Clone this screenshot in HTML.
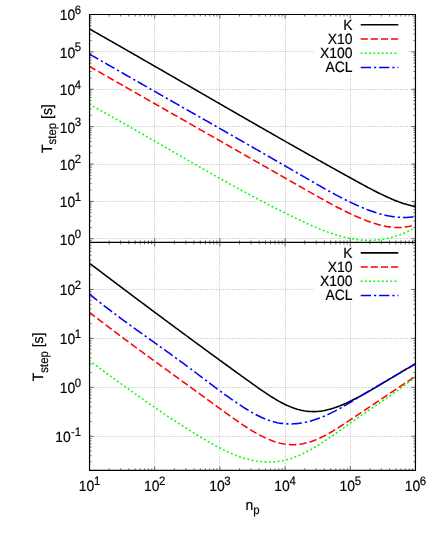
<!DOCTYPE html><html><head><meta charset="utf-8"><style>html,body{margin:0;padding:0;background:#fff}svg{display:block;will-change:transform}text{font-family:"Liberation Sans",sans-serif;fill:#000;text-rendering:geometricPrecision;stroke:#000;stroke-width:0.18px}</style></head><body>
<svg width="436" height="556" viewBox="0 0 436 556">
<rect width="436" height="556" fill="#fff"/>
<defs><clipPath id="ct"><rect x="89.55" y="14.5" width="325.9" height="227.9"/></clipPath><clipPath id="cb"><rect x="89.55" y="242.4" width="325.9" height="228"/></clipPath></defs>
<path d="M154.50 14.50 V470.40 M219.50 14.50 V470.40 M285.50 14.50 V470.40 M350.50 14.50 V470.40 M89.55 238.50 H415.45 M89.55 201.50 H415.45 M89.55 164.50 H415.45 M89.55 126.50 H415.45 M89.55 89.50 H415.45 M89.55 51.50 H415.45 M89.55 436.50 H415.45 M89.55 387.50 H415.45 M89.55 338.50 H415.45 M89.55 289.50 H415.45" stroke="#a2a2a2" stroke-width="0.65" stroke-dasharray="1 1.3" fill="none"/>
<rect x="315" y="14.50" width="93.7" height="58.80" fill="#fff"/>
<rect x="315" y="242.40" width="93.7" height="58.60" fill="#fff"/>
<path d="M109.17 14.50 v2.00 M109.17 240.40 v4.00 M109.17 470.40 v-2.00 M120.65 14.50 v2.00 M120.65 240.40 v4.00 M120.65 470.40 v-2.00 M128.79 14.50 v2.00 M128.79 240.40 v4.00 M128.79 470.40 v-2.00 M135.11 14.50 v2.00 M135.11 240.40 v4.00 M135.11 470.40 v-2.00 M140.27 14.50 v2.00 M140.27 240.40 v4.00 M140.27 470.40 v-2.00 M144.63 14.50 v2.00 M144.63 240.40 v4.00 M144.63 470.40 v-2.00 M148.41 14.50 v2.00 M148.41 240.40 v4.00 M148.41 470.40 v-2.00 M151.75 14.50 v2.00 M151.75 240.40 v4.00 M151.75 470.40 v-2.00 M154.73 14.50 v4.00 M154.73 238.40 v8.00 M154.73 470.40 v-4.00 M174.35 14.50 v2.00 M174.35 240.40 v4.00 M174.35 470.40 v-2.00 M185.83 14.50 v2.00 M185.83 240.40 v4.00 M185.83 470.40 v-2.00 M193.97 14.50 v2.00 M193.97 240.40 v4.00 M193.97 470.40 v-2.00 M200.29 14.50 v2.00 M200.29 240.40 v4.00 M200.29 470.40 v-2.00 M205.45 14.50 v2.00 M205.45 240.40 v4.00 M205.45 470.40 v-2.00 M209.81 14.50 v2.00 M209.81 240.40 v4.00 M209.81 470.40 v-2.00 M213.59 14.50 v2.00 M213.59 240.40 v4.00 M213.59 470.40 v-2.00 M216.93 14.50 v2.00 M216.93 240.40 v4.00 M216.93 470.40 v-2.00 M219.91 14.50 v4.00 M219.91 238.40 v8.00 M219.91 470.40 v-4.00 M239.53 14.50 v2.00 M239.53 240.40 v4.00 M239.53 470.40 v-2.00 M251.01 14.50 v2.00 M251.01 240.40 v4.00 M251.01 470.40 v-2.00 M259.15 14.50 v2.00 M259.15 240.40 v4.00 M259.15 470.40 v-2.00 M265.47 14.50 v2.00 M265.47 240.40 v4.00 M265.47 470.40 v-2.00 M270.63 14.50 v2.00 M270.63 240.40 v4.00 M270.63 470.40 v-2.00 M274.99 14.50 v2.00 M274.99 240.40 v4.00 M274.99 470.40 v-2.00 M278.77 14.50 v2.00 M278.77 240.40 v4.00 M278.77 470.40 v-2.00 M282.11 14.50 v2.00 M282.11 240.40 v4.00 M282.11 470.40 v-2.00 M285.09 14.50 v4.00 M285.09 238.40 v8.00 M285.09 470.40 v-4.00 M304.71 14.50 v2.00 M304.71 240.40 v4.00 M304.71 470.40 v-2.00 M316.19 14.50 v2.00 M316.19 240.40 v4.00 M316.19 470.40 v-2.00 M324.33 14.50 v2.00 M324.33 240.40 v4.00 M324.33 470.40 v-2.00 M330.65 14.50 v2.00 M330.65 240.40 v4.00 M330.65 470.40 v-2.00 M335.81 14.50 v2.00 M335.81 240.40 v4.00 M335.81 470.40 v-2.00 M340.17 14.50 v2.00 M340.17 240.40 v4.00 M340.17 470.40 v-2.00 M343.95 14.50 v2.00 M343.95 240.40 v4.00 M343.95 470.40 v-2.00 M347.29 14.50 v2.00 M347.29 240.40 v4.00 M347.29 470.40 v-2.00 M350.27 14.50 v4.00 M350.27 238.40 v8.00 M350.27 470.40 v-4.00 M369.89 14.50 v2.00 M369.89 240.40 v4.00 M369.89 470.40 v-2.00 M381.37 14.50 v2.00 M381.37 240.40 v4.00 M381.37 470.40 v-2.00 M389.51 14.50 v2.00 M389.51 240.40 v4.00 M389.51 470.40 v-2.00 M395.83 14.50 v2.00 M395.83 240.40 v4.00 M395.83 470.40 v-2.00 M400.99 14.50 v2.00 M400.99 240.40 v4.00 M400.99 470.40 v-2.00 M405.35 14.50 v2.00 M405.35 240.40 v4.00 M405.35 470.40 v-2.00 M409.13 14.50 v2.00 M409.13 240.40 v4.00 M409.13 470.40 v-2.00 M412.47 14.50 v2.00 M412.47 240.40 v4.00 M412.47 470.40 v-2.00 M89.55 242.40 h2.00 M415.45 242.40 h-2.00 M89.55 240.49 h2.00 M415.45 240.49 h-2.00 M89.55 238.78 h4.00 M415.45 238.78 h-4.00 M89.55 227.53 h2.00 M415.45 227.53 h-2.00 M89.55 220.95 h2.00 M415.45 220.95 h-2.00 M89.55 216.27 h2.00 M415.45 216.27 h-2.00 M89.55 212.65 h2.00 M415.45 212.65 h-2.00 M89.55 209.69 h2.00 M415.45 209.69 h-2.00 M89.55 207.19 h2.00 M415.45 207.19 h-2.00 M89.55 205.02 h2.00 M415.45 205.02 h-2.00 M89.55 203.11 h2.00 M415.45 203.11 h-2.00 M89.55 201.40 h4.00 M415.45 201.40 h-4.00 M89.55 190.15 h2.00 M415.45 190.15 h-2.00 M89.55 183.57 h2.00 M415.45 183.57 h-2.00 M89.55 178.89 h2.00 M415.45 178.89 h-2.00 M89.55 175.27 h2.00 M415.45 175.27 h-2.00 M89.55 172.31 h2.00 M415.45 172.31 h-2.00 M89.55 169.81 h2.00 M415.45 169.81 h-2.00 M89.55 167.64 h2.00 M415.45 167.64 h-2.00 M89.55 165.73 h2.00 M415.45 165.73 h-2.00 M89.55 164.02 h4.00 M415.45 164.02 h-4.00 M89.55 152.77 h2.00 M415.45 152.77 h-2.00 M89.55 146.19 h2.00 M415.45 146.19 h-2.00 M89.55 141.51 h2.00 M415.45 141.51 h-2.00 M89.55 137.89 h2.00 M415.45 137.89 h-2.00 M89.55 134.93 h2.00 M415.45 134.93 h-2.00 M89.55 132.43 h2.00 M415.45 132.43 h-2.00 M89.55 130.26 h2.00 M415.45 130.26 h-2.00 M89.55 128.35 h2.00 M415.45 128.35 h-2.00 M89.55 126.64 h4.00 M415.45 126.64 h-4.00 M89.55 115.39 h2.00 M415.45 115.39 h-2.00 M89.55 108.81 h2.00 M415.45 108.81 h-2.00 M89.55 104.13 h2.00 M415.45 104.13 h-2.00 M89.55 100.51 h2.00 M415.45 100.51 h-2.00 M89.55 97.55 h2.00 M415.45 97.55 h-2.00 M89.55 95.05 h2.00 M415.45 95.05 h-2.00 M89.55 92.88 h2.00 M415.45 92.88 h-2.00 M89.55 90.97 h2.00 M415.45 90.97 h-2.00 M89.55 89.26 h4.00 M415.45 89.26 h-4.00 M89.55 78.01 h2.00 M415.45 78.01 h-2.00 M89.55 71.43 h2.00 M415.45 71.43 h-2.00 M89.55 66.75 h2.00 M415.45 66.75 h-2.00 M89.55 63.13 h2.00 M415.45 63.13 h-2.00 M89.55 60.17 h2.00 M415.45 60.17 h-2.00 M89.55 57.67 h2.00 M415.45 57.67 h-2.00 M89.55 55.50 h2.00 M415.45 55.50 h-2.00 M89.55 53.59 h2.00 M415.45 53.59 h-2.00 M89.55 51.88 h4.00 M415.45 51.88 h-4.00 M89.55 40.63 h2.00 M415.45 40.63 h-2.00 M89.55 34.05 h2.00 M415.45 34.05 h-2.00 M89.55 29.37 h2.00 M415.45 29.37 h-2.00 M89.55 25.75 h2.00 M415.45 25.75 h-2.00 M89.55 22.79 h2.00 M415.45 22.79 h-2.00 M89.55 20.29 h2.00 M415.45 20.29 h-2.00 M89.55 18.12 h2.00 M415.45 18.12 h-2.00 M89.55 16.21 h2.00 M415.45 16.21 h-2.00 M89.55 14.50 h4.00 M415.45 14.50 h-4.00 M89.55 470.40 h2.00 M415.45 470.40 h-2.00 M89.55 461.79 h2.00 M415.45 461.79 h-2.00 M89.55 455.68 h2.00 M415.45 455.68 h-2.00 M89.55 450.94 h2.00 M415.45 450.94 h-2.00 M89.55 447.06 h2.00 M415.45 447.06 h-2.00 M89.55 443.79 h2.00 M415.45 443.79 h-2.00 M89.55 440.95 h2.00 M415.45 440.95 h-2.00 M89.55 438.45 h2.00 M415.45 438.45 h-2.00 M89.55 436.21 h4.00 M415.45 436.21 h-4.00 M89.55 421.48 h2.00 M415.45 421.48 h-2.00 M89.55 412.87 h2.00 M415.45 412.87 h-2.00 M89.55 406.76 h2.00 M415.45 406.76 h-2.00 M89.55 402.02 h2.00 M415.45 402.02 h-2.00 M89.55 398.14 h2.00 M415.45 398.14 h-2.00 M89.55 394.87 h2.00 M415.45 394.87 h-2.00 M89.55 392.03 h2.00 M415.45 392.03 h-2.00 M89.55 389.53 h2.00 M415.45 389.53 h-2.00 M89.55 387.29 h4.00 M415.45 387.29 h-4.00 M89.55 372.56 h2.00 M415.45 372.56 h-2.00 M89.55 363.95 h2.00 M415.45 363.95 h-2.00 M89.55 357.84 h2.00 M415.45 357.84 h-2.00 M89.55 353.10 h2.00 M415.45 353.10 h-2.00 M89.55 349.22 h2.00 M415.45 349.22 h-2.00 M89.55 345.95 h2.00 M415.45 345.95 h-2.00 M89.55 343.11 h2.00 M415.45 343.11 h-2.00 M89.55 340.61 h2.00 M415.45 340.61 h-2.00 M89.55 338.37 h4.00 M415.45 338.37 h-4.00 M89.55 323.64 h2.00 M415.45 323.64 h-2.00 M89.55 315.03 h2.00 M415.45 315.03 h-2.00 M89.55 308.92 h2.00 M415.45 308.92 h-2.00 M89.55 304.18 h2.00 M415.45 304.18 h-2.00 M89.55 300.30 h2.00 M415.45 300.30 h-2.00 M89.55 297.03 h2.00 M415.45 297.03 h-2.00 M89.55 294.19 h2.00 M415.45 294.19 h-2.00 M89.55 291.69 h2.00 M415.45 291.69 h-2.00 M89.55 289.45 h4.00 M415.45 289.45 h-4.00 M89.55 274.72 h2.00 M415.45 274.72 h-2.00 M89.55 266.11 h2.00 M415.45 266.11 h-2.00 M89.55 260.00 h2.00 M415.45 260.00 h-2.00 M89.55 255.26 h2.00 M415.45 255.26 h-2.00 M89.55 251.38 h2.00 M415.45 251.38 h-2.00 M89.55 248.11 h2.00 M415.45 248.11 h-2.00 M89.55 245.27 h2.00 M415.45 245.27 h-2.00 M89.55 242.77 h2.00 M415.45 242.77 h-2.00" stroke="#000" stroke-width="0.6" fill="none"/>
<path d="M89.05 28.69 L90.54 29.54 L92.04 30.38 L93.53 31.23 L95.02 32.07 L96.51 32.92 L98.01 33.77 L99.50 34.62 L100.99 35.46 L102.48 36.31 L103.98 37.16 L105.47 38.01 L106.96 38.86 L108.46 39.71 L109.95 40.56 L111.44 41.41 L112.93 42.26 L114.43 43.11 L115.92 43.97 L117.41 44.82 L118.90 45.67 L120.40 46.52 L121.89 47.38 L123.38 48.23 L124.87 49.09 L126.37 49.94 L127.86 50.80 L129.35 51.65 L130.85 52.51 L132.34 53.36 L133.83 54.22 L135.32 55.08 L136.82 55.93 L138.31 56.79 L139.80 57.65 L141.29 58.50 L142.79 59.36 L144.28 60.22 L145.77 61.08 L147.27 61.94 L148.76 62.80 L150.25 63.65 L151.74 64.51 L153.24 65.37 L154.73 66.23 L156.22 67.09 L157.71 67.95 L159.21 68.81 L160.70 69.67 L162.19 70.53 L163.68 71.39 L165.18 72.25 L166.67 73.11 L168.16 73.98 L169.66 74.84 L171.15 75.70 L172.64 76.56 L174.13 77.42 L175.63 78.28 L177.12 79.14 L178.61 80.01 L180.10 80.87 L181.60 81.73 L183.09 82.59 L184.58 83.45 L186.08 84.32 L187.57 85.18 L189.06 86.04 L190.55 86.90 L192.05 87.76 L193.54 88.63 L195.03 89.49 L196.52 90.35 L198.02 91.21 L199.51 92.07 L201.00 92.94 L202.49 93.80 L203.99 94.66 L205.48 95.52 L206.97 96.38 L208.47 97.25 L209.96 98.11 L211.45 98.97 L212.94 99.83 L214.44 100.69 L215.93 101.55 L217.42 102.42 L218.91 103.28 L220.41 104.14 L221.90 105.00 L223.39 105.86 L224.89 106.72 L226.38 107.58 L227.87 108.44 L229.36 109.30 L230.86 110.16 L232.35 111.02 L233.84 111.88 L235.33 112.74 L236.83 113.60 L238.32 114.46 L239.81 115.32 L241.30 116.18 L242.80 117.04 L244.29 117.89 L245.78 118.75 L247.28 119.61 L248.77 120.47 L250.26 121.32 L251.75 122.18 L253.25 123.04 L254.74 123.89 L256.23 124.75 L257.72 125.61 L259.22 126.46 L260.71 127.32 L262.20 128.17 L263.70 129.03 L265.19 129.88 L266.68 130.73 L268.17 131.59 L269.67 132.44 L271.16 133.29 L272.65 134.15 L274.14 135.00 L275.64 135.85 L277.13 136.70 L278.62 137.55 L280.11 138.40 L281.61 139.25 L283.10 140.10 L284.59 140.95 L286.09 141.80 L287.58 142.65 L289.07 143.50 L290.56 144.34 L292.06 145.19 L293.55 146.04 L295.04 146.88 L296.53 147.73 L298.03 148.57 L299.52 149.42 L301.01 150.26 L302.51 151.10 L304.00 151.95 L305.49 152.79 L306.98 153.63 L308.48 154.47 L309.97 155.31 L311.46 156.15 L312.95 156.99 L314.45 157.83 L315.94 158.67 L317.43 159.51 L318.92 160.35 L320.42 161.18 L321.91 162.02 L323.40 162.86 L324.90 163.69 L326.39 164.52 L327.88 165.36 L329.37 166.19 L330.87 167.02 L332.36 167.86 L333.85 168.69 L335.34 169.52 L336.84 170.35 L338.33 171.18 L339.82 172.00 L341.32 172.83 L342.81 173.66 L344.30 174.48 L345.79 175.31 L347.29 176.13 L348.78 176.96 L350.27 177.78 L351.76 178.60 L353.26 179.43 L354.75 180.25 L356.24 181.07 L357.73 181.89 L359.23 182.71 L360.72 183.52 L362.21 184.34 L363.71 185.15 L365.20 185.96 L366.69 186.76 L368.18 187.56 L369.68 188.35 L371.17 189.14 L372.66 189.92 L374.15 190.69 L375.65 191.45 L377.14 192.20 L378.63 192.94 L380.13 193.67 L381.62 194.40 L383.11 195.12 L384.60 195.82 L386.10 196.52 L387.59 197.21 L389.08 197.88 L390.57 198.54 L392.07 199.18 L393.56 199.81 L395.05 200.42 L396.54 201.01 L398.04 201.58 L399.53 202.13 L401.02 202.66 L402.52 203.16 L404.01 203.64 L405.50 204.10 L406.99 204.53 L408.49 204.93 L409.98 205.30 L411.47 205.64 L412.96 205.95 L414.46 206.22 L415.95 206.47" stroke="#000000" stroke-width="1.55" fill="none" clip-path="url(#ct)"/>
<path d="M89.05 66.25 L90.54 67.10 L92.04 67.94 L93.53 68.79 L95.02 69.64 L96.51 70.49 L98.01 71.34 L99.50 72.19 L100.99 73.04 L102.48 73.89 L103.98 74.74 L105.47 75.59 L106.96 76.44 L108.46 77.29 L109.95 78.14 L111.44 78.99 L112.93 79.84 L114.43 80.69 L115.92 81.54 L117.41 82.39 L118.90 83.24 L120.40 84.09 L121.89 84.94 L123.38 85.79 L124.87 86.64 L126.37 87.49 L127.86 88.34 L129.35 89.20 L130.85 90.05 L132.34 90.90 L133.83 91.75 L135.32 92.60 L136.82 93.45 L138.31 94.30 L139.80 95.15 L141.29 96.00 L142.79 96.85 L144.28 97.70 L145.77 98.55 L147.27 99.41 L148.76 100.26 L150.25 101.11 L151.74 101.96 L153.24 102.81 L154.73 103.66 L156.22 104.51 L157.71 105.36 L159.21 106.21 L160.70 107.07 L162.19 107.92 L163.68 108.77 L165.18 109.62 L166.67 110.47 L168.16 111.32 L169.66 112.17 L171.15 113.03 L172.64 113.88 L174.13 114.73 L175.63 115.58 L177.12 116.43 L178.61 117.28 L180.10 118.13 L181.60 118.99 L183.09 119.84 L184.58 120.69 L186.08 121.54 L187.57 122.39 L189.06 123.24 L190.55 124.10 L192.05 124.95 L193.54 125.80 L195.03 126.65 L196.52 127.50 L198.02 128.35 L199.51 129.21 L201.00 130.06 L202.49 130.91 L203.99 131.76 L205.48 132.61 L206.97 133.46 L208.47 134.32 L209.96 135.17 L211.45 136.02 L212.94 136.87 L214.44 137.72 L215.93 138.57 L217.42 139.43 L218.91 140.28 L220.41 141.13 L221.90 141.98 L223.39 142.83 L224.89 143.68 L226.38 144.54 L227.87 145.39 L229.36 146.24 L230.86 147.09 L232.35 147.94 L233.84 148.79 L235.33 149.65 L236.83 150.50 L238.32 151.35 L239.81 152.20 L241.30 153.05 L242.80 153.90 L244.29 154.76 L245.78 155.61 L247.28 156.46 L248.77 157.31 L250.26 158.16 L251.75 159.01 L253.25 159.86 L254.74 160.72 L256.23 161.57 L257.72 162.42 L259.22 163.27 L260.71 164.12 L262.20 164.97 L263.70 165.82 L265.19 166.68 L266.68 167.53 L268.17 168.38 L269.67 169.23 L271.16 170.08 L272.65 170.93 L274.14 171.78 L275.64 172.63 L277.13 173.48 L278.62 174.34 L280.11 175.19 L281.61 176.04 L283.10 176.89 L284.59 177.74 L286.09 178.59 L287.58 179.44 L289.07 180.29 L290.56 181.14 L292.06 181.99 L293.55 182.84 L295.04 183.70 L296.53 184.55 L298.03 185.40 L299.52 186.25 L301.01 187.10 L302.51 187.95 L304.00 188.80 L305.49 189.65 L306.98 190.50 L308.48 191.35 L309.97 192.20 L311.46 193.05 L312.95 193.89 L314.45 194.74 L315.94 195.58 L317.43 196.42 L318.92 197.26 L320.42 198.09 L321.91 198.92 L323.40 199.75 L324.90 200.57 L326.39 201.39 L327.88 202.21 L329.37 203.02 L330.87 203.82 L332.36 204.62 L333.85 205.41 L335.34 206.20 L336.84 206.98 L338.33 207.75 L339.82 208.52 L341.32 209.28 L342.81 210.03 L344.30 210.77 L345.79 211.50 L347.29 212.23 L348.78 212.94 L350.27 213.65 L351.76 214.35 L353.26 215.03 L354.75 215.71 L356.24 216.38 L357.73 217.03 L359.23 217.67 L360.72 218.31 L362.21 218.93 L363.71 219.53 L365.20 220.13 L366.69 220.70 L368.18 221.27 L369.68 221.81 L371.17 222.34 L372.66 222.85 L374.15 223.34 L375.65 223.81 L377.14 224.26 L378.63 224.68 L380.13 225.08 L381.62 225.45 L383.11 225.80 L384.60 226.11 L386.10 226.40 L387.59 226.66 L389.08 226.89 L390.57 227.09 L392.07 227.25 L393.56 227.38 L395.05 227.47 L396.54 227.52 L398.04 227.54 L399.53 227.52 L401.02 227.46 L402.52 227.36 L404.01 227.22 L405.50 227.03 L406.99 226.80 L408.49 226.53 L409.98 226.20 L411.47 225.83 L412.96 225.42 L414.46 224.95 L415.95 224.43" stroke="#ff0000" stroke-width="1.55" fill="none" clip-path="url(#ct)" stroke-dasharray="7.377 3.117"/>
<path d="M89.05 104.16 L90.54 104.97 L92.04 105.78 L93.53 106.59 L95.02 107.41 L96.51 108.23 L98.01 109.05 L99.50 109.87 L100.99 110.69 L102.48 111.52 L103.98 112.34 L105.47 113.17 L106.96 114.00 L108.46 114.83 L109.95 115.66 L111.44 116.50 L112.93 117.33 L114.43 118.17 L115.92 119.01 L117.41 119.85 L118.90 120.69 L120.40 121.53 L121.89 122.38 L123.38 123.22 L124.87 124.06 L126.37 124.91 L127.86 125.76 L129.35 126.61 L130.85 127.46 L132.34 128.31 L133.83 129.16 L135.32 130.01 L136.82 130.86 L138.31 131.72 L139.80 132.57 L141.29 133.43 L142.79 134.28 L144.28 135.14 L145.77 135.99 L147.27 136.85 L148.76 137.71 L150.25 138.57 L151.74 139.43 L153.24 140.28 L154.73 141.14 L156.22 142.00 L157.71 142.86 L159.21 143.72 L160.70 144.58 L162.19 145.44 L163.68 146.30 L165.18 147.16 L166.67 148.03 L168.16 148.89 L169.66 149.75 L171.15 150.61 L172.64 151.47 L174.13 152.33 L175.63 153.19 L177.12 154.05 L178.61 154.90 L180.10 155.76 L181.60 156.62 L183.09 157.48 L184.58 158.34 L186.08 159.19 L187.57 160.05 L189.06 160.91 L190.55 161.76 L192.05 162.62 L193.54 163.47 L195.03 164.33 L196.52 165.18 L198.02 166.03 L199.51 166.88 L201.00 167.73 L202.49 168.58 L203.99 169.43 L205.48 170.28 L206.97 171.12 L208.47 171.97 L209.96 172.81 L211.45 173.65 L212.94 174.50 L214.44 175.34 L215.93 176.18 L217.42 177.01 L218.91 177.85 L220.41 178.68 L221.90 179.52 L223.39 180.35 L224.89 181.18 L226.38 182.01 L227.87 182.84 L229.36 183.66 L230.86 184.49 L232.35 185.31 L233.84 186.13 L235.33 186.95 L236.83 187.77 L238.32 188.59 L239.81 189.40 L241.30 190.21 L242.80 191.02 L244.29 191.83 L245.78 192.63 L247.28 193.44 L248.77 194.24 L250.26 195.04 L251.75 195.84 L253.25 196.63 L254.74 197.42 L256.23 198.21 L257.72 199.00 L259.22 199.79 L260.71 200.57 L262.20 201.35 L263.70 202.13 L265.19 202.91 L266.68 203.68 L268.17 204.45 L269.67 205.22 L271.16 205.98 L272.65 206.75 L274.14 207.51 L275.64 208.26 L277.13 209.02 L278.62 209.77 L280.11 210.52 L281.61 211.26 L283.10 212.00 L284.59 212.74 L286.09 213.48 L287.58 214.21 L289.07 214.94 L290.56 215.67 L292.06 216.39 L293.55 217.11 L295.04 217.83 L296.53 218.54 L298.03 219.25 L299.52 219.96 L301.01 220.66 L302.51 221.36 L304.00 222.05 L305.49 222.74 L306.98 223.43 L308.48 224.10 L309.97 224.77 L311.46 225.44 L312.95 226.09 L314.45 226.74 L315.94 227.38 L317.43 228.01 L318.92 228.63 L320.42 229.24 L321.91 229.83 L323.40 230.42 L324.90 231.00 L326.39 231.56 L327.88 232.11 L329.37 232.64 L330.87 233.16 L332.36 233.67 L333.85 234.16 L335.34 234.64 L336.84 235.10 L338.33 235.54 L339.82 235.97 L341.32 236.38 L342.81 236.77 L344.30 237.14 L345.79 237.50 L347.29 237.83 L348.78 238.15 L350.27 238.44 L351.76 238.72 L353.26 238.97 L354.75 239.20 L356.24 239.42 L357.73 239.61 L359.23 239.78 L360.72 239.92 L362.21 240.05 L363.71 240.15 L365.20 240.23 L366.69 240.28 L368.18 240.31 L369.68 240.31 L371.17 240.29 L372.66 240.25 L374.15 240.18 L375.65 240.08 L377.14 239.96 L378.63 239.81 L380.13 239.64 L381.62 239.44 L383.11 239.21 L384.60 238.96 L386.10 238.67 L387.59 238.37 L389.08 238.03 L390.57 237.67 L392.07 237.28 L393.56 236.86 L395.05 236.41 L396.54 235.94 L398.04 235.44 L399.53 234.91 L401.02 234.35 L402.52 233.77 L404.01 233.15 L405.50 232.51 L406.99 231.84 L408.49 231.14 L409.98 230.42 L411.47 229.66 L412.96 228.87 L414.46 228.06 L415.95 227.21" stroke="#00ff00" stroke-width="1.55" fill="none" clip-path="url(#ct)" stroke-dasharray="1.906 2.451"/>
<path d="M89.05 53.84 L90.54 54.69 L92.04 55.55 L93.53 56.41 L95.02 57.27 L96.51 58.12 L98.01 58.98 L99.50 59.84 L100.99 60.69 L102.48 61.55 L103.98 62.40 L105.47 63.26 L106.96 64.11 L108.46 64.97 L109.95 65.83 L111.44 66.68 L112.93 67.53 L114.43 68.39 L115.92 69.24 L117.41 70.10 L118.90 70.95 L120.40 71.81 L121.89 72.66 L123.38 73.51 L124.87 74.37 L126.37 75.22 L127.86 76.07 L129.35 76.92 L130.85 77.78 L132.34 78.63 L133.83 79.48 L135.32 80.34 L136.82 81.19 L138.31 82.04 L139.80 82.89 L141.29 83.74 L142.79 84.60 L144.28 85.45 L145.77 86.30 L147.27 87.15 L148.76 88.00 L150.25 88.85 L151.74 89.70 L153.24 90.55 L154.73 91.41 L156.22 92.26 L157.71 93.11 L159.21 93.96 L160.70 94.81 L162.19 95.66 L163.68 96.51 L165.18 97.36 L166.67 98.21 L168.16 99.06 L169.66 99.91 L171.15 100.76 L172.64 101.61 L174.13 102.46 L175.63 103.32 L177.12 104.17 L178.61 105.02 L180.10 105.87 L181.60 106.72 L183.09 107.57 L184.58 108.42 L186.08 109.27 L187.57 110.12 L189.06 110.97 L190.55 111.82 L192.05 112.67 L193.54 113.52 L195.03 114.37 L196.52 115.22 L198.02 116.07 L199.51 116.92 L201.00 117.77 L202.49 118.62 L203.99 119.48 L205.48 120.33 L206.97 121.18 L208.47 122.03 L209.96 122.88 L211.45 123.73 L212.94 124.58 L214.44 125.43 L215.93 126.28 L217.42 127.14 L218.91 127.99 L220.41 128.84 L221.90 129.69 L223.39 130.54 L224.89 131.40 L226.38 132.25 L227.87 133.10 L229.36 133.95 L230.86 134.81 L232.35 135.66 L233.84 136.51 L235.33 137.36 L236.83 138.22 L238.32 139.07 L239.81 139.92 L241.30 140.78 L242.80 141.63 L244.29 142.49 L245.78 143.34 L247.28 144.19 L248.77 145.05 L250.26 145.90 L251.75 146.76 L253.25 147.61 L254.74 148.47 L256.23 149.32 L257.72 150.18 L259.22 151.04 L260.71 151.89 L262.20 152.75 L263.70 153.60 L265.19 154.46 L266.68 155.32 L268.17 156.18 L269.67 157.03 L271.16 157.89 L272.65 158.75 L274.14 159.61 L275.64 160.47 L277.13 161.32 L278.62 162.18 L280.11 163.04 L281.61 163.90 L283.10 164.76 L284.59 165.62 L286.09 166.48 L287.58 167.34 L289.07 168.20 L290.56 169.06 L292.06 169.93 L293.55 170.79 L295.04 171.65 L296.53 172.51 L298.03 173.38 L299.52 174.24 L301.01 175.10 L302.51 175.97 L304.00 176.83 L305.49 177.69 L306.98 178.56 L308.48 179.42 L309.97 180.29 L311.46 181.15 L312.95 182.01 L314.45 182.87 L315.94 183.73 L317.43 184.59 L318.92 185.44 L320.42 186.29 L321.91 187.14 L323.40 187.98 L324.90 188.82 L326.39 189.66 L327.88 190.49 L329.37 191.32 L330.87 192.14 L332.36 192.95 L333.85 193.76 L335.34 194.57 L336.84 195.36 L338.33 196.15 L339.82 196.93 L341.32 197.71 L342.81 198.48 L344.30 199.23 L345.79 199.98 L347.29 200.72 L348.78 201.45 L350.27 202.17 L351.76 202.88 L353.26 203.58 L354.75 204.27 L356.24 204.95 L357.73 205.62 L359.23 206.27 L360.72 206.91 L362.21 207.54 L363.71 208.16 L365.20 208.76 L366.69 209.35 L368.18 209.93 L369.68 210.48 L371.17 211.03 L372.66 211.55 L374.15 212.06 L375.65 212.55 L377.14 213.02 L378.63 213.47 L380.13 213.90 L381.62 214.31 L383.11 214.70 L384.60 215.06 L386.10 215.40 L387.59 215.72 L389.08 216.02 L390.57 216.29 L392.07 216.53 L393.56 216.75 L395.05 216.94 L396.54 217.10 L398.04 217.24 L399.53 217.35 L401.02 217.42 L402.52 217.47 L404.01 217.49 L405.50 217.47 L406.99 217.42 L408.49 217.34 L409.98 217.23 L411.47 217.08 L412.96 216.90 L414.46 216.68 L415.95 216.42" stroke="#0000ff" stroke-width="1.55" fill="none" clip-path="url(#ct)" stroke-dasharray="10.506 3.060 2.244 2.907"/>
<path d="M89.05 262.96 L90.54 264.09 L92.04 265.21 L93.53 266.34 L95.02 267.47 L96.51 268.60 L98.01 269.72 L99.50 270.85 L100.99 271.97 L102.48 273.10 L103.98 274.23 L105.47 275.35 L106.96 276.48 L108.46 277.60 L109.95 278.72 L111.44 279.85 L112.93 280.97 L114.43 282.10 L115.92 283.22 L117.41 284.34 L118.90 285.46 L120.40 286.58 L121.89 287.71 L123.38 288.83 L124.87 289.95 L126.37 291.07 L127.86 292.19 L129.35 293.31 L130.85 294.42 L132.34 295.54 L133.83 296.66 L135.32 297.78 L136.82 298.90 L138.31 300.01 L139.80 301.13 L141.29 302.25 L142.79 303.36 L144.28 304.48 L145.77 305.59 L147.27 306.71 L148.76 307.82 L150.25 308.93 L151.74 310.05 L153.24 311.16 L154.73 312.27 L156.22 313.38 L157.71 314.49 L159.21 315.60 L160.70 316.71 L162.19 317.82 L163.68 318.93 L165.18 320.04 L166.67 321.15 L168.16 322.25 L169.66 323.36 L171.15 324.47 L172.64 325.57 L174.13 326.68 L175.63 327.78 L177.12 328.89 L178.61 329.99 L180.10 331.10 L181.60 332.20 L183.09 333.30 L184.58 334.40 L186.08 335.50 L187.57 336.60 L189.06 337.70 L190.55 338.80 L192.05 339.90 L193.54 341.00 L195.03 342.10 L196.52 343.19 L198.02 344.29 L199.51 345.39 L201.00 346.48 L202.49 347.58 L203.99 348.67 L205.48 349.76 L206.97 350.86 L208.47 351.95 L209.96 353.04 L211.45 354.13 L212.94 355.22 L214.44 356.31 L215.93 357.40 L217.42 358.49 L218.91 359.58 L220.41 360.66 L221.90 361.75 L223.39 362.84 L224.89 363.92 L226.38 365.00 L227.87 366.09 L229.36 367.17 L230.86 368.25 L232.35 369.33 L233.84 370.42 L235.33 371.50 L236.83 372.58 L238.32 373.65 L239.81 374.73 L241.30 375.81 L242.80 376.88 L244.29 377.96 L245.78 379.03 L247.28 380.10 L248.77 381.16 L250.26 382.23 L251.75 383.29 L253.25 384.35 L254.74 385.40 L256.23 386.46 L257.72 387.51 L259.22 388.55 L260.71 389.59 L262.20 390.62 L263.70 391.65 L265.19 392.66 L266.68 393.67 L268.17 394.66 L269.67 395.63 L271.16 396.59 L272.65 397.53 L274.14 398.46 L275.64 399.36 L277.13 400.24 L278.62 401.09 L280.11 401.92 L281.61 402.73 L283.10 403.50 L284.59 404.24 L286.09 404.96 L287.58 405.64 L289.07 406.28 L290.56 406.89 L292.06 407.47 L293.55 408.01 L295.04 408.52 L296.53 408.99 L298.03 409.43 L299.52 409.82 L301.01 410.18 L302.51 410.50 L304.00 410.79 L305.49 411.03 L306.98 411.23 L308.48 411.39 L309.97 411.51 L311.46 411.59 L312.95 411.62 L314.45 411.61 L315.94 411.56 L317.43 411.47 L318.92 411.34 L320.42 411.16 L321.91 410.95 L323.40 410.71 L324.90 410.42 L326.39 410.10 L327.88 409.75 L329.37 409.37 L330.87 408.95 L332.36 408.51 L333.85 408.04 L335.34 407.53 L336.84 407.01 L338.33 406.46 L339.82 405.88 L341.32 405.28 L342.81 404.66 L344.30 404.02 L345.79 403.36 L347.29 402.68 L348.78 401.98 L350.27 401.27 L351.76 400.55 L353.26 399.81 L354.75 399.05 L356.24 398.29 L357.73 397.51 L359.23 396.72 L360.72 395.92 L362.21 395.11 L363.71 394.29 L365.20 393.46 L366.69 392.62 L368.18 391.77 L369.68 390.91 L371.17 390.05 L372.66 389.18 L374.15 388.31 L375.65 387.42 L377.14 386.54 L378.63 385.65 L380.13 384.76 L381.62 383.86 L383.11 382.96 L384.60 382.06 L386.10 381.15 L387.59 380.25 L389.08 379.35 L390.57 378.44 L392.07 377.54 L393.56 376.64 L395.05 375.73 L396.54 374.84 L398.04 373.94 L399.53 373.05 L401.02 372.16 L402.52 371.28 L404.01 370.40 L405.50 369.53 L406.99 368.67 L408.49 367.81 L409.98 366.96 L411.47 366.12 L412.96 365.29 L414.46 364.46 L415.95 363.65" stroke="#000000" stroke-width="1.55" fill="none" clip-path="url(#cb)"/>
<path d="M89.05 312.04 L90.54 313.20 L92.04 314.36 L93.53 315.52 L95.02 316.67 L96.51 317.82 L98.01 318.97 L99.50 320.12 L100.99 321.26 L102.48 322.40 L103.98 323.54 L105.47 324.68 L106.96 325.81 L108.46 326.94 L109.95 328.07 L111.44 329.20 L112.93 330.33 L114.43 331.45 L115.92 332.57 L117.41 333.69 L118.90 334.81 L120.40 335.93 L121.89 337.04 L123.38 338.16 L124.87 339.27 L126.37 340.38 L127.86 341.49 L129.35 342.59 L130.85 343.70 L132.34 344.80 L133.83 345.90 L135.32 347.00 L136.82 348.10 L138.31 349.20 L139.80 350.30 L141.29 351.39 L142.79 352.49 L144.28 353.58 L145.77 354.68 L147.27 355.77 L148.76 356.86 L150.25 357.95 L151.74 359.04 L153.24 360.13 L154.73 361.21 L156.22 362.30 L157.71 363.39 L159.21 364.47 L160.70 365.56 L162.19 366.64 L163.68 367.73 L165.18 368.81 L166.67 369.89 L168.16 370.97 L169.66 372.06 L171.15 373.14 L172.64 374.22 L174.13 375.30 L175.63 376.39 L177.12 377.47 L178.61 378.55 L180.10 379.63 L181.60 380.71 L183.09 381.80 L184.58 382.88 L186.08 383.96 L187.57 385.05 L189.06 386.13 L190.55 387.21 L192.05 388.30 L193.54 389.38 L195.03 390.47 L196.52 391.55 L198.02 392.64 L199.51 393.73 L201.00 394.81 L202.49 395.90 L203.99 396.99 L205.48 398.08 L206.97 399.17 L208.47 400.26 L209.96 401.35 L211.45 402.44 L212.94 403.53 L214.44 404.62 L215.93 405.71 L217.42 406.80 L218.91 407.88 L220.41 408.97 L221.90 410.05 L223.39 411.14 L224.89 412.22 L226.38 413.29 L227.87 414.37 L229.36 415.44 L230.86 416.50 L232.35 417.56 L233.84 418.61 L235.33 419.66 L236.83 420.70 L238.32 421.74 L239.81 422.76 L241.30 423.78 L242.80 424.78 L244.29 425.78 L245.78 426.76 L247.28 427.73 L248.77 428.68 L250.26 429.62 L251.75 430.54 L253.25 431.44 L254.74 432.32 L256.23 433.18 L257.72 434.02 L259.22 434.84 L260.71 435.63 L262.20 436.40 L263.70 437.14 L265.19 437.85 L266.68 438.53 L268.17 439.19 L269.67 439.81 L271.16 440.40 L272.65 440.96 L274.14 441.48 L275.64 441.97 L277.13 442.42 L278.62 442.83 L280.11 443.21 L281.61 443.54 L283.10 443.83 L284.59 444.08 L286.09 444.29 L287.58 444.45 L289.07 444.57 L290.56 444.64 L292.06 444.67 L293.55 444.66 L295.04 444.61 L296.53 444.52 L298.03 444.39 L299.52 444.21 L301.01 444.00 L302.51 443.75 L304.00 443.45 L305.49 443.12 L306.98 442.75 L308.48 442.35 L309.97 441.90 L311.46 441.42 L312.95 440.90 L314.45 440.35 L315.94 439.76 L317.43 439.13 L318.92 438.48 L320.42 437.79 L321.91 437.07 L323.40 436.33 L324.90 435.56 L326.39 434.76 L327.88 433.95 L329.37 433.10 L330.87 432.24 L332.36 431.36 L333.85 430.46 L335.34 429.55 L336.84 428.62 L338.33 427.68 L339.82 426.72 L341.32 425.75 L342.81 424.78 L344.30 423.80 L345.79 422.81 L347.29 421.82 L348.78 420.82 L350.27 419.82 L351.76 418.83 L353.26 417.83 L354.75 416.83 L356.24 415.83 L357.73 414.83 L359.23 413.83 L360.72 412.84 L362.21 411.84 L363.71 410.84 L365.20 409.84 L366.69 408.84 L368.18 407.84 L369.68 406.84 L371.17 405.84 L372.66 404.84 L374.15 403.84 L375.65 402.84 L377.14 401.84 L378.63 400.85 L380.13 399.85 L381.62 398.85 L383.11 397.85 L384.60 396.85 L386.10 395.85 L387.59 394.86 L389.08 393.86 L390.57 392.86 L392.07 391.86 L393.56 390.87 L395.05 389.87 L396.54 388.88 L398.04 387.88 L399.53 386.89 L401.02 385.89 L402.52 384.90 L404.01 383.91 L405.50 382.91 L406.99 381.92 L408.49 380.93 L409.98 379.94 L411.47 378.95 L412.96 377.96 L414.46 376.97 L415.95 375.98" stroke="#ff0000" stroke-width="1.55" fill="none" clip-path="url(#cb)" stroke-dasharray="7.377 3.117"/>
<path d="M89.05 360.31 L90.54 361.42 L92.04 362.52 L93.53 363.63 L95.02 364.73 L96.51 365.83 L98.01 366.94 L99.50 368.04 L100.99 369.13 L102.48 370.23 L103.98 371.33 L105.47 372.42 L106.96 373.52 L108.46 374.61 L109.95 375.70 L111.44 376.79 L112.93 377.88 L114.43 378.96 L115.92 380.05 L117.41 381.13 L118.90 382.21 L120.40 383.29 L121.89 384.37 L123.38 385.44 L124.87 386.51 L126.37 387.58 L127.86 388.65 L129.35 389.72 L130.85 390.78 L132.34 391.84 L133.83 392.90 L135.32 393.96 L136.82 395.02 L138.31 396.07 L139.80 397.12 L141.29 398.17 L142.79 399.21 L144.28 400.25 L145.77 401.29 L147.27 402.33 L148.76 403.36 L150.25 404.39 L151.74 405.42 L153.24 406.44 L154.73 407.46 L156.22 408.48 L157.71 409.50 L159.21 410.51 L160.70 411.52 L162.19 412.52 L163.68 413.53 L165.18 414.53 L166.67 415.52 L168.16 416.51 L169.66 417.50 L171.15 418.49 L172.64 419.47 L174.13 420.44 L175.63 421.42 L177.12 422.39 L178.61 423.35 L180.10 424.31 L181.60 425.27 L183.09 426.23 L184.58 427.18 L186.08 428.12 L187.57 429.06 L189.06 430.00 L190.55 430.93 L192.05 431.86 L193.54 432.79 L195.03 433.71 L196.52 434.62 L198.02 435.53 L199.51 436.44 L201.00 437.34 L202.49 438.24 L203.99 439.13 L205.48 440.01 L206.97 440.89 L208.47 441.75 L209.96 442.61 L211.45 443.46 L212.94 444.30 L214.44 445.13 L215.93 445.94 L217.42 446.75 L218.91 447.54 L220.41 448.31 L221.90 449.07 L223.39 449.82 L224.89 450.55 L226.38 451.26 L227.87 451.95 L229.36 452.63 L230.86 453.29 L232.35 453.93 L233.84 454.54 L235.33 455.14 L236.83 455.71 L238.32 456.26 L239.81 456.79 L241.30 457.29 L242.80 457.77 L244.29 458.23 L245.78 458.66 L247.28 459.07 L248.77 459.45 L250.26 459.80 L251.75 460.13 L253.25 460.44 L254.74 460.71 L256.23 460.97 L257.72 461.19 L259.22 461.39 L260.71 461.55 L262.20 461.69 L263.70 461.81 L265.19 461.89 L266.68 461.95 L268.17 461.97 L269.67 461.97 L271.16 461.93 L272.65 461.87 L274.14 461.77 L275.64 461.65 L277.13 461.49 L278.62 461.30 L280.11 461.08 L281.61 460.83 L283.10 460.55 L284.59 460.23 L286.09 459.88 L287.58 459.50 L289.07 459.08 L290.56 458.63 L292.06 458.15 L293.55 457.63 L295.04 457.08 L296.53 456.50 L298.03 455.89 L299.52 455.25 L301.01 454.58 L302.51 453.89 L304.00 453.17 L305.49 452.42 L306.98 451.65 L308.48 450.86 L309.97 450.05 L311.46 449.21 L312.95 448.35 L314.45 447.48 L315.94 446.58 L317.43 445.67 L318.92 444.74 L320.42 443.80 L321.91 442.84 L323.40 441.87 L324.90 440.88 L326.39 439.89 L327.88 438.88 L329.37 437.86 L330.87 436.83 L332.36 435.80 L333.85 434.76 L335.34 433.71 L336.84 432.66 L338.33 431.60 L339.82 430.54 L341.32 429.48 L342.81 428.42 L344.30 427.36 L345.79 426.30 L347.29 425.24 L348.78 424.18 L350.27 423.12 L351.76 422.07 L353.26 421.03 L354.75 419.99 L356.24 418.95 L357.73 417.91 L359.23 416.88 L360.72 415.85 L362.21 414.83 L363.71 413.80 L365.20 412.78 L366.69 411.76 L368.18 410.74 L369.68 409.72 L371.17 408.70 L372.66 407.68 L374.15 406.66 L375.65 405.64 L377.14 404.62 L378.63 403.60 L380.13 402.57 L381.62 401.55 L383.11 400.52 L384.60 399.49 L386.10 398.46 L387.59 397.43 L389.08 396.39 L390.57 395.35 L392.07 394.30 L393.56 393.25 L395.05 392.20 L396.54 391.14 L398.04 390.08 L399.53 389.01 L401.02 387.93 L402.52 386.85 L404.01 385.76 L405.50 384.67 L406.99 383.57 L408.49 382.46 L409.98 381.34 L411.47 380.22 L412.96 379.09 L414.46 377.95 L415.95 376.80" stroke="#00ff00" stroke-width="1.55" fill="none" clip-path="url(#cb)" stroke-dasharray="1.906 2.451"/>
<path d="M89.05 293.72 L90.54 294.95 L92.04 296.16 L93.53 297.37 L95.02 298.57 L96.51 299.77 L98.01 300.95 L99.50 302.14 L100.99 303.31 L102.48 304.48 L103.98 305.64 L105.47 306.80 L106.96 307.95 L108.46 309.09 L109.95 310.23 L111.44 311.36 L112.93 312.49 L114.43 313.62 L115.92 314.74 L117.41 315.85 L118.90 316.96 L120.40 318.07 L121.89 319.17 L123.38 320.27 L124.87 321.37 L126.37 322.46 L127.86 323.55 L129.35 324.63 L130.85 325.72 L132.34 326.80 L133.83 327.87 L135.32 328.95 L136.82 330.02 L138.31 331.09 L139.80 332.16 L141.29 333.23 L142.79 334.30 L144.28 335.36 L145.77 336.42 L147.27 337.49 L148.76 338.55 L150.25 339.61 L151.74 340.67 L153.24 341.73 L154.73 342.80 L156.22 343.86 L157.71 344.92 L159.21 345.98 L160.70 347.05 L162.19 348.11 L163.68 349.18 L165.18 350.24 L166.67 351.31 L168.16 352.38 L169.66 353.45 L171.15 354.53 L172.64 355.60 L174.13 356.68 L175.63 357.76 L177.12 358.85 L178.61 359.93 L180.10 361.02 L181.60 362.12 L183.09 363.21 L184.58 364.31 L186.08 365.42 L187.57 366.53 L189.06 367.64 L190.55 368.75 L192.05 369.88 L193.54 371.00 L195.03 372.12 L196.52 373.25 L198.02 374.38 L199.51 375.51 L201.00 376.65 L202.49 377.78 L203.99 378.91 L205.48 380.04 L206.97 381.18 L208.47 382.30 L209.96 383.43 L211.45 384.56 L212.94 385.68 L214.44 386.80 L215.93 387.92 L217.42 389.03 L218.91 390.14 L220.41 391.24 L221.90 392.34 L223.39 393.43 L224.89 394.51 L226.38 395.59 L227.87 396.66 L229.36 397.72 L230.86 398.78 L232.35 399.82 L233.84 400.86 L235.33 401.89 L236.83 402.90 L238.32 403.91 L239.81 404.90 L241.30 405.88 L242.80 406.85 L244.29 407.80 L245.78 408.74 L247.28 409.66 L248.77 410.56 L250.26 411.44 L251.75 412.30 L253.25 413.14 L254.74 413.96 L256.23 414.76 L257.72 415.53 L259.22 416.27 L260.71 416.99 L262.20 417.68 L263.70 418.33 L265.19 418.96 L266.68 419.55 L268.17 420.10 L269.67 420.62 L271.16 421.10 L272.65 421.54 L274.14 421.95 L275.64 422.31 L277.13 422.64 L278.62 422.93 L280.11 423.18 L281.61 423.39 L283.10 423.57 L284.59 423.71 L286.09 423.82 L287.58 423.89 L289.07 423.93 L290.56 423.94 L292.06 423.91 L293.55 423.85 L295.04 423.76 L296.53 423.63 L298.03 423.48 L299.52 423.29 L301.01 423.07 L302.51 422.83 L304.00 422.55 L305.49 422.25 L306.98 421.91 L308.48 421.55 L309.97 421.17 L311.46 420.75 L312.95 420.31 L314.45 419.85 L315.94 419.36 L317.43 418.84 L318.92 418.30 L320.42 417.74 L321.91 417.15 L323.40 416.54 L324.90 415.91 L326.39 415.25 L327.88 414.58 L329.37 413.88 L330.87 413.17 L332.36 412.43 L333.85 411.68 L335.34 410.90 L336.84 410.11 L338.33 409.31 L339.82 408.48 L341.32 407.65 L342.81 406.80 L344.30 405.94 L345.79 405.06 L347.29 404.18 L348.78 403.29 L350.27 402.40 L351.76 401.49 L353.26 400.58 L354.75 399.67 L356.24 398.75 L357.73 397.84 L359.23 396.92 L360.72 396.00 L362.21 395.09 L363.71 394.17 L365.20 393.26 L366.69 392.36 L368.18 391.46 L369.68 390.57 L371.17 389.68 L372.66 388.79 L374.15 387.91 L375.65 387.04 L377.14 386.17 L378.63 385.30 L380.13 384.43 L381.62 383.57 L383.11 382.71 L384.60 381.85 L386.10 381.00 L387.59 380.14 L389.08 379.29 L390.57 378.44 L392.07 377.59 L393.56 376.74 L395.05 375.88 L396.54 375.03 L398.04 374.17 L399.53 373.31 L401.02 372.44 L402.52 371.58 L404.01 370.70 L405.50 369.83 L406.99 368.94 L408.49 368.05 L409.98 367.16 L411.47 366.26 L412.96 365.35 L414.46 364.43 L415.95 363.50" stroke="#0000ff" stroke-width="1.55" fill="none" clip-path="url(#cb)" stroke-dasharray="10.506 3.060 2.244 2.907"/>
<text transform="translate(352.6 29.70) scale(0.935 1)" font-size="14.9" text-anchor="end">K</text>
<path d="M360.7 24.80 H398.3" stroke="#000000" stroke-width="1.55" fill="none"/>
<text transform="translate(352.6 43.94) scale(0.935 1)" font-size="14.9" text-anchor="end">X10</text>
<path d="M360.7 39.04 H398.3" stroke="#ff0000" stroke-width="1.55" fill="none" stroke-dasharray="7.1 3.0"/>
<text transform="translate(352.6 58.18) scale(0.935 1)" font-size="14.9" text-anchor="end">X100</text>
<path d="M360.7 53.28 H398.3" stroke="#00ff00" stroke-width="1.55" fill="none" stroke-dasharray="1.85 2.38"/>
<text transform="translate(352.6 72.42) scale(0.935 1)" font-size="14.9" text-anchor="end">ACL</text>
<path d="M360.7 67.52 H398.3" stroke="#0000ff" stroke-width="1.55" fill="none" stroke-dasharray="10.3 3 2.2 2.85"/>
<text transform="translate(352.6 257.75) scale(0.935 1)" font-size="14.9" text-anchor="end">K</text>
<path d="M360.7 252.85 H398.3" stroke="#000000" stroke-width="1.55" fill="none"/>
<text transform="translate(352.6 271.99) scale(0.935 1)" font-size="14.9" text-anchor="end">X10</text>
<path d="M360.7 267.09 H398.3" stroke="#ff0000" stroke-width="1.55" fill="none" stroke-dasharray="7.1 3.0"/>
<text transform="translate(352.6 286.23) scale(0.935 1)" font-size="14.9" text-anchor="end">X100</text>
<path d="M360.7 281.33 H398.3" stroke="#00ff00" stroke-width="1.55" fill="none" stroke-dasharray="1.85 2.38"/>
<text transform="translate(352.6 300.47) scale(0.935 1)" font-size="14.9" text-anchor="end">ACL</text>
<path d="M360.7 295.57 H398.3" stroke="#0000ff" stroke-width="1.55" fill="none" stroke-dasharray="10.3 3 2.2 2.85"/>
<path d="M89.55 14.50 H415.45 V470.40 H89.55 Z M89.55 242.40 H415.45" stroke="#000" stroke-width="1.2" fill="none"/>
<text transform="translate(81.20 244.68) scale(0.935 1)" font-size="14.9" text-anchor="end">10<tspan font-size="12.2" dx="-0.4" dy="-6.6">0</tspan></text>
<text transform="translate(81.20 207.30) scale(0.935 1)" font-size="14.9" text-anchor="end">10<tspan font-size="12.2" dx="-0.4" dy="-6.6">1</tspan></text>
<text transform="translate(81.20 169.92) scale(0.935 1)" font-size="14.9" text-anchor="end">10<tspan font-size="12.2" dx="-0.4" dy="-6.6">2</tspan></text>
<text transform="translate(81.20 132.54) scale(0.935 1)" font-size="14.9" text-anchor="end">10<tspan font-size="12.2" dx="-0.4" dy="-6.6">3</tspan></text>
<text transform="translate(81.20 95.16) scale(0.935 1)" font-size="14.9" text-anchor="end">10<tspan font-size="12.2" dx="-0.4" dy="-6.6">4</tspan></text>
<text transform="translate(81.20 57.78) scale(0.935 1)" font-size="14.9" text-anchor="end">10<tspan font-size="12.2" dx="-0.4" dy="-6.6">5</tspan></text>
<text transform="translate(81.20 20.40) scale(0.935 1)" font-size="14.9" text-anchor="end">10<tspan font-size="12.2" dx="-0.4" dy="-6.6">6</tspan></text>
<text transform="translate(81.20 442.11) scale(0.935 1)" font-size="14.9" text-anchor="end">10<tspan font-size="12.2" dx="0.3" dy="-6.6">-1</tspan></text>
<text transform="translate(81.20 393.19) scale(0.935 1)" font-size="14.9" text-anchor="end">10<tspan font-size="12.2" dx="-0.4" dy="-6.6">0</tspan></text>
<text transform="translate(81.20 344.27) scale(0.935 1)" font-size="14.9" text-anchor="end">10<tspan font-size="12.2" dx="-0.4" dy="-6.6">1</tspan></text>
<text transform="translate(81.20 295.35) scale(0.935 1)" font-size="14.9" text-anchor="end">10<tspan font-size="12.2" dx="-0.4" dy="-6.6">2</tspan></text>
<text transform="translate(89.55 491.20) scale(0.935 1)" font-size="14.9" text-anchor="middle">10<tspan font-size="12.2" dx="-0.4" dy="-6.6">1</tspan></text>
<text transform="translate(154.73 491.20) scale(0.935 1)" font-size="14.9" text-anchor="middle">10<tspan font-size="12.2" dx="-0.4" dy="-6.6">2</tspan></text>
<text transform="translate(219.91 491.20) scale(0.935 1)" font-size="14.9" text-anchor="middle">10<tspan font-size="12.2" dx="-0.4" dy="-6.6">3</tspan></text>
<text transform="translate(285.09 491.20) scale(0.935 1)" font-size="14.9" text-anchor="middle">10<tspan font-size="12.2" dx="-0.4" dy="-6.6">4</tspan></text>
<text transform="translate(350.27 491.20) scale(0.935 1)" font-size="14.9" text-anchor="middle">10<tspan font-size="12.2" dx="-0.4" dy="-6.6">5</tspan></text>
<text transform="translate(415.45 491.20) scale(0.935 1)" font-size="14.9" text-anchor="middle">10<tspan font-size="12.2" dx="-0.4" dy="-6.6">6</tspan></text>
<text transform="translate(252.50 509.6) scale(0.935 1)" font-size="14.9" text-anchor="middle">n<tspan font-size="12.2" dy="4.2">p</tspan></text>
<text transform="translate(51.90 128.60) rotate(-90) scale(0.935 1)" font-size="14.9" text-anchor="middle">T<tspan font-size="12.2" dy="4.3">step</tspan><tspan dy="-4.3"> [s]</tspan></text>
<text transform="translate(43.30 356.90) rotate(-90) scale(0.935 1)" font-size="14.9" text-anchor="middle">T<tspan font-size="12.2" dy="4.3">step</tspan><tspan dy="-4.3"> [s]</tspan></text>
</svg></body></html>
